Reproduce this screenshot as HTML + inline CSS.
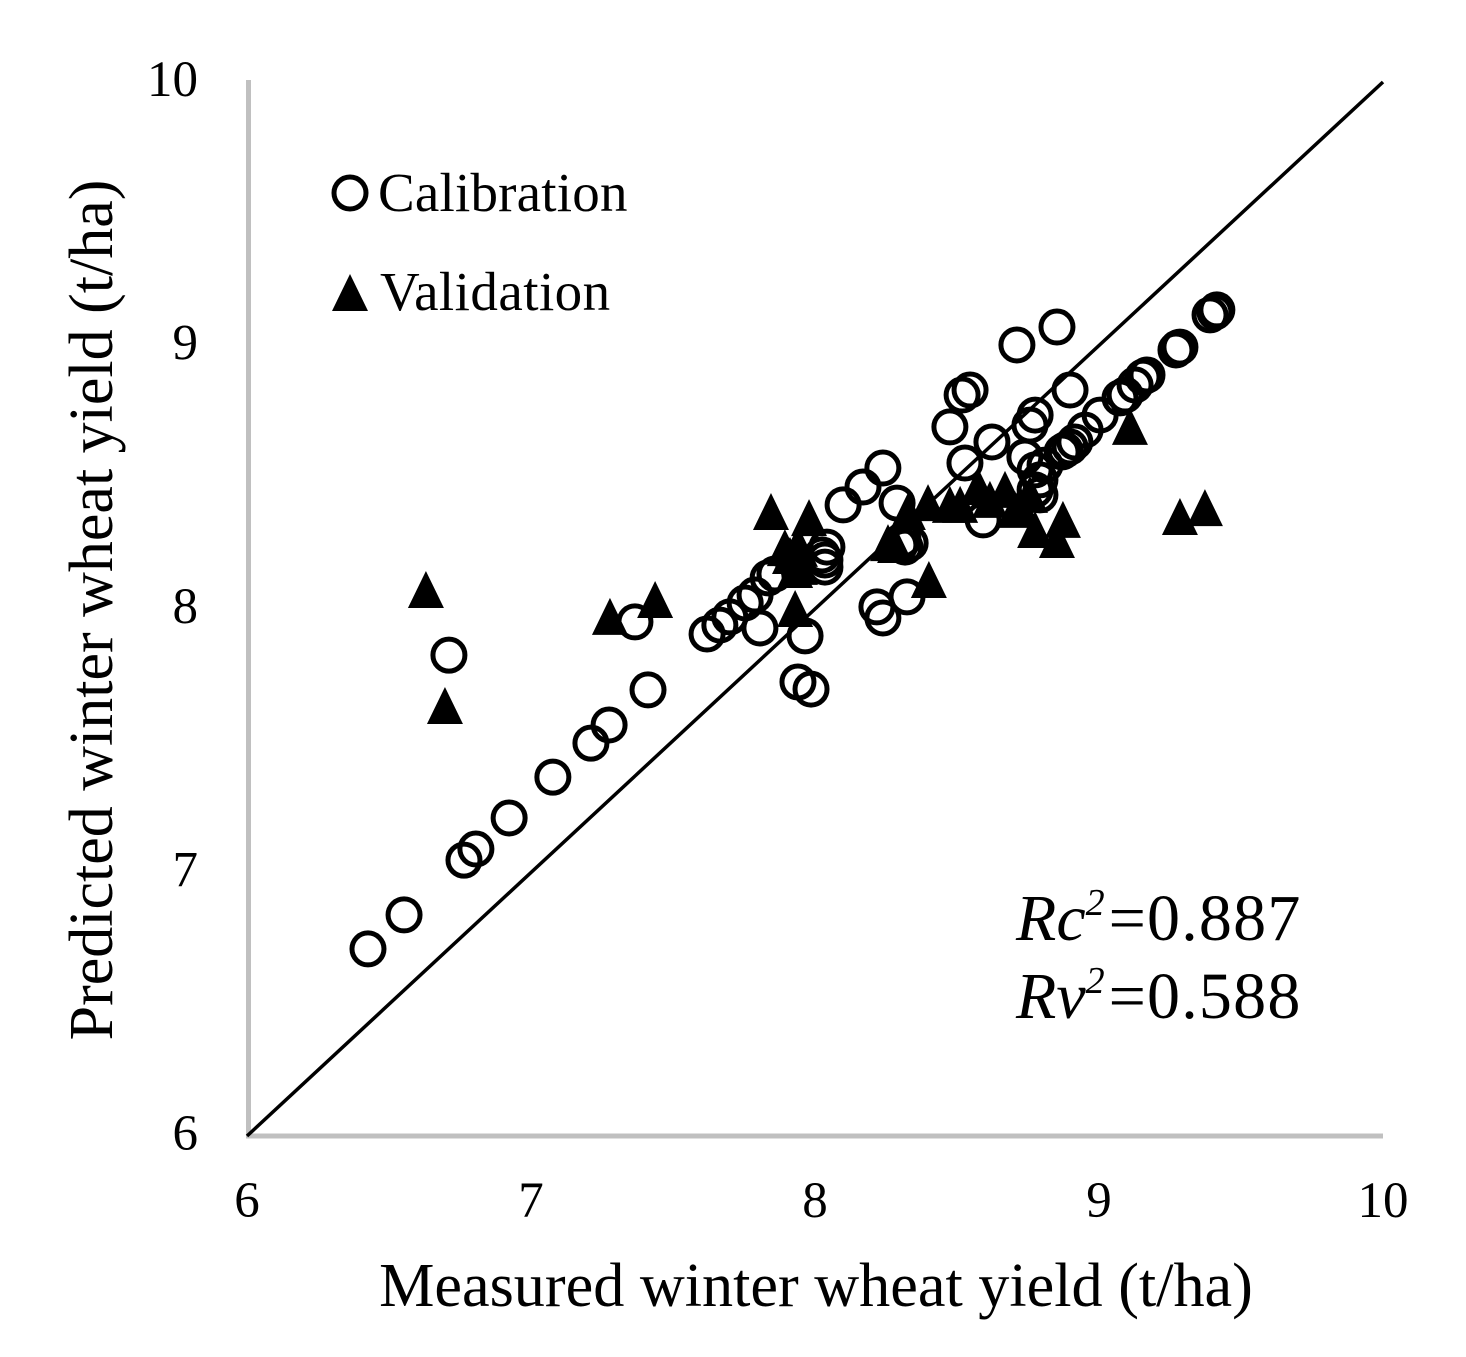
<!DOCTYPE html>
<html lang="en">
<head>
<meta charset="utf-8">
<title>Measured vs predicted winter wheat yield</title>
<style>
html,body{margin:0;padding:0;background:#fff;}
svg{display:block;}
text{font-family:"Liberation Serif",serif;fill:#000;}
</style>
</head>
<body>
<svg id="chart" width="1466" height="1357" viewBox="0 0 1466 1357" xmlns="http://www.w3.org/2000/svg">
  <rect width="1466" height="1357" fill="#fff"/>
  <g id="axes"></g>
  <g id="marks"></g>
  <text x="816" y="1306" font-size="62.2" text-anchor="middle">Measured winter wheat yield (t/ha)</text>
  <text transform="translate(112,610) rotate(-90)" font-size="62" text-anchor="middle">Predicted winter wheat yield (t/ha)</text>
  <g>
    <circle cx="350" cy="193" r="16" fill="none" stroke="#000" stroke-width="5"/>
    <text x="378" y="211" font-size="55" letter-spacing="0.2">Calibration</text>
    <polygon points="350,274 368,311 332,311" fill="#000"/>
    <text x="380" y="310" font-size="55" letter-spacing="0.45">Validation</text>
  </g>
  <text x="1016" y="940" font-size="66"><tspan font-style="italic">Rc</tspan><tspan font-style="italic" font-size="38" dy="-25">2</tspan><tspan dx="4" dy="25" letter-spacing="1.2">=0.887</tspan></text>
  <text x="1016" y="1018" font-size="66"><tspan font-style="italic">Rv</tspan><tspan font-style="italic" font-size="38" dy="-25">2</tspan><tspan dx="4" dy="25" letter-spacing="1.2">=0.588</tspan></text>
</svg>
<script>
const xTickValues = [6, 7, 8, 9, 10];
const yTickValues = [6, 7, 8, 9, 10];
const oneToOneX = [6, 10];
const oneToOneY = [6, 10];
const calibrationX = [6.426,6.553,6.764,6.806,6.923,7.077,7.211,7.275,7.412,6.711,7.366,7.62,7.665,7.70,7.754,7.789,7.835,7.859,7.806,7.965,7.94,7.986,8.035,8.042,8.099,8.169,8.239,8.289,8.335,8.317,8.218,8.239,8.324,8.711,8.852,8.546,8.518,8.475,8.623,8.528,8.898,8.775,8.757,8.739,8.592,8.792,8.792,8.775,8.81,8.88,8.915,8.951,9.004,9.074,9.127,9.155,9.169,9.278,9.285,9.271,9.391,9.415,9.408,8.870,8.898,8.775,9.092,8.299,8.310,8.025,8.035];
const calibrationY = [6.710,6.839,7.047,7.089,7.207,7.362,7.491,7.560,7.693,7.825,7.951,7.905,7.939,7.970,8.023,8.053,8.118,8.133,7.928,7.898,7.723,7.696,8.159,8.235,8.395,8.463,8.535,8.402,8.250,8.235,8.008,7.966,8.046,9.002,9.070,8.831,8.812,8.691,8.634,8.554,8.831,8.736,8.698,8.577,8.338,8.433,8.490,8.528,8.546,8.603,8.634,8.679,8.736,8.801,8.850,8.880,8.888,8.991,8.994,8.983,9.116,9.135,9.127,8.596,8.615,8.452,8.812,8.243,8.262,8.205,8.186];
const validationX = [6.630,6.697,7.278,7.437,7.845,7.979,7.930,8.401,8.257,8.282,8.327,8.398,8.475,8.574,8.669,8.704,8.775,8.873,8.852,9.109,9.285,9.373,7.930,7.912,7.947,7.947,7.930,7.894,8.722,8.616,8.757,8.511];
const validationY = [8.072,7.632,7.970,8.034,8.368,8.345,8.000,8.110,8.250,8.243,8.368,8.402,8.395,8.463,8.452,8.376,8.300,8.338,8.262,8.691,8.349,8.383,8.220,8.201,8.228,8.160,8.148,8.231,8.395,8.414,8.433,8.395];

const SVG_NS = 'http://www.w3.org/2000/svg';
const plot = { left: 247, right: 1383, bottom: 1136, top: 82 };
function xScale(v) { return plot.left + (v - 6) / 4 * (plot.right - plot.left); }
function yScale(v) { return plot.bottom - (v - 6) / 4 * (plot.bottom - plot.top); }
function make(tag, attrs) {
  const el = document.createElementNS(SVG_NS, tag);
  Object.keys(attrs).forEach(function (k) { el.setAttribute(k, attrs[k]); });
  return el;
}
const axes = document.getElementById('axes');
const marks = document.getElementById('marks');

const yAxis = make('line', { x1: 248.5, y1: 80, x2: 248.5, y2: 1138.5, stroke: '#c0c0c0', 'stroke-width': 5 });


axes.appendChild(yAxis);

const xAxis = make('line', { x1: 246, y1: 1136, x2: 1383, y2: 1136, stroke: '#c0c0c0', 'stroke-width': 5 });


axes.appendChild(xAxis);

xTickValues.forEach(function (v) {
  const t = make('text', { x: xScale(v), y: 1217, 'font-size': 51, 'text-anchor': 'middle' });
  
  
  t.textContent = String(v);
  axes.appendChild(t);
});

yTickValues.forEach(function (v) {
  const t = make('text', { x: 198, y: yScale(v) + 14, 'font-size': 51, 'text-anchor': 'end' });
  
  
  t.textContent = String(v);
  axes.appendChild(t);
});

const refLine = make('line', {
  x1: xScale(oneToOneX[0]), y1: yScale(oneToOneY[0]),
  x2: xScale(oneToOneX[1]), y2: yScale(oneToOneY[1]),
  stroke: '#000', 'stroke-width': 3.5
});


marks.appendChild(refLine);

calibrationX.forEach(function (v, i) {
  const c = make('circle', { cx: xScale(v), cy: yScale(calibrationY[i]), r: 16, fill: 'none', stroke: '#000', 'stroke-width': 5 });
  
  
  marks.appendChild(c);
});

validationX.forEach(function (v, i) {
  const px = xScale(v);
  const py = yScale(validationY[i]);
  const tri = make('polygon', {
    points: px + ',' + (py - 19) + ' ' + (px + 18) + ',' + (py + 18) + ' ' + (px - 18) + ',' + (py + 18),
    fill: '#000'
  });
  
  
  marks.appendChild(tri);
});
</script>
</body>
</html>
